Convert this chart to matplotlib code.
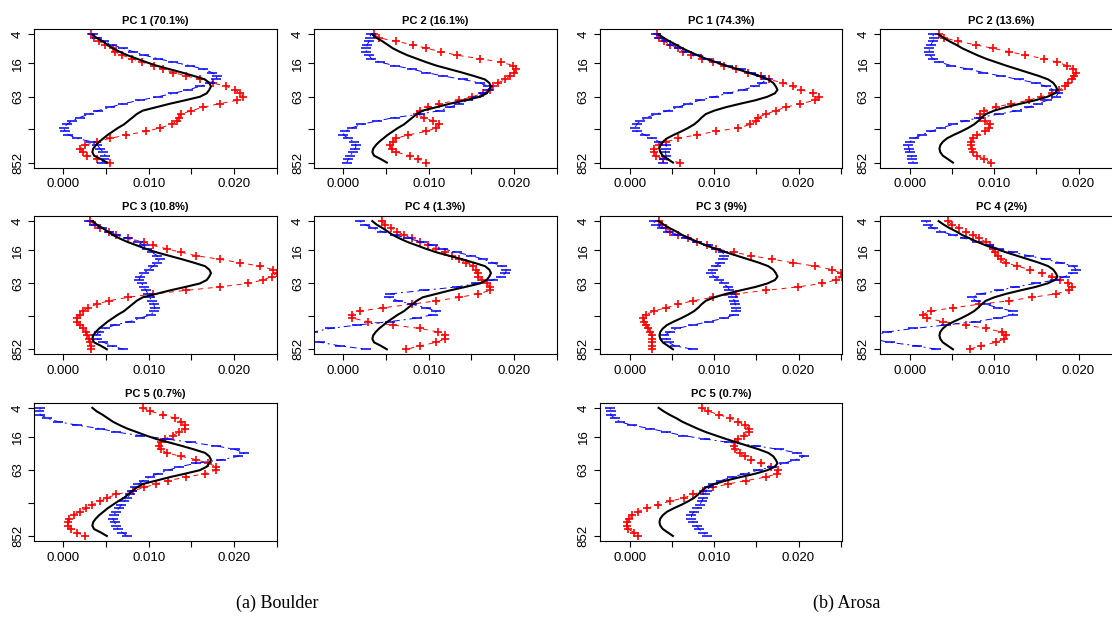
import matplotlib
matplotlib.use("Agg")
import matplotlib.pyplot as plt
from matplotlib import font_manager as fm
import numpy as np


def pick_font(names, default):
    for n in names:
        try:
            fm.findfont(fm.FontProperties(family=n), fallback_to_default=False)
            return n
        except Exception:
            pass
    return default


SANS = pick_font(['Liberation Sans', 'Arimo', 'Arial', 'Helvetica', 'Nimbus Sans', 'Roboto'], 'DejaVu Sans')
SERIF = pick_font(['Liberation Serif', 'Tinos', 'Times New Roman', 'Nimbus Roman'], 'DejaVu Serif')
plt.rcParams['font.family'] = [SANS, 'DejaVu Sans']

# vertical level index (top = 4, bottom = 852)
level = np.arange(38)
ytick_index = [0, 8.36, 17.98, 27.45, 37]
ytick_labels = ['4', '16', '63', '', '852']
xticks = [0.0, 0.005, 0.010, 0.015, 0.020, 0.025]
xtick_labels = ['0.000', '', '0.010', '', '0.020', '']

boulder_mean = [0.0034, 0.0039, 0.0046, 0.0052, 0.0058, 0.0066, 0.0075, 0.0086, 0.0097, 0.0109,
                0.0124, 0.0139, 0.0153, 0.0166, 0.0171, 0.0173, 0.0171, 0.0168, 0.0160, 0.0143,
                0.0125, 0.0109, 0.0093, 0.0086, 0.0081, 0.0076, 0.0071, 0.0064, 0.0058, 0.0052,
                0.0047, 0.0042, 0.0038, 0.0035, 0.0034, 0.0036, 0.0044, 0.0051]
arosa_mean = [0.0034, 0.0040, 0.0047, 0.0055, 0.0062, 0.0071, 0.0080, 0.0090, 0.0102, 0.0114,
              0.0127, 0.0140, 0.0153, 0.0164, 0.0170, 0.0173, 0.0175, 0.0172, 0.0163, 0.0149,
              0.0131, 0.0114, 0.0100, 0.0090, 0.0085, 0.0081, 0.0076, 0.0069, 0.0061, 0.0052,
              0.0044, 0.0039, 0.0036, 0.0035, 0.0036, 0.0039, 0.0045, 0.0051]

boulder_titles = ['PC 1 (70.1%)', 'PC 2 (16.1%)', 'PC 3 (10.8%)', 'PC 4 (1.3%)', 'PC 5 (0.7%)']
arosa_titles = ['PC 1 (74.3%)', 'PC 2 (13.6%)', 'PC 3 (9%)', 'PC 4 (2%)', 'PC 5 (0.7%)']

boulder_plus = [
    [0.0032, 0.0036, 0.0042, 0.0049, 0.0058, 0.0060, 0.0069, 0.0080, 0.0092, 0.0106,
     0.0117, 0.0129, 0.0144, 0.0160, 0.0175, 0.0191, 0.0201, 0.0207, 0.0211, 0.0204,
     0.0183, 0.0164, 0.0150, 0.0138, 0.0136, 0.0133, 0.0127, 0.0113, 0.0097, 0.0074,
     0.0055, 0.0039, 0.0025, 0.0020, 0.0023, 0.0028, 0.0039, 0.0055],
    [0.0036, 0.0042, 0.0062, 0.0082, 0.0097, 0.0115, 0.0133, 0.0160, 0.0185, 0.0199,
     0.0202, 0.0200, 0.0195, 0.0190, 0.0181, 0.0175, 0.0172, 0.0164, 0.0151, 0.0135,
     0.0112, 0.0099, 0.0090, 0.0086, 0.0094, 0.0105, 0.0112, 0.0109, 0.0097, 0.0076,
     0.0062, 0.0058, 0.0055, 0.0057, 0.0062, 0.0078, 0.0088, 0.0097],
    [0.0031, 0.0037, 0.0043, 0.0053, 0.0062, 0.0076, 0.0094, 0.0105, 0.0121, 0.0138,
     0.0156, 0.0183, 0.0207, 0.0230, 0.0246, 0.0250, 0.0244, 0.0234, 0.0216, 0.0183,
     0.0144, 0.0105, 0.0076, 0.0053, 0.0039, 0.0029, 0.0023, 0.0019, 0.0016, 0.0016,
     0.0019, 0.0023, 0.0027, 0.0028, 0.0030, 0.0031, 0.0032, 0.0032],
    [0.0045, 0.0049, 0.0056, 0.0063, 0.0071, 0.0080, 0.0090, 0.0099, 0.0109, 0.0119,
     0.0127, 0.0136, 0.0144, 0.0152, 0.0156, 0.0158, 0.0158, 0.0162, 0.0168, 0.0172,
     0.0172, 0.0158, 0.0136, 0.0109, 0.0080, 0.0047, 0.0019, 0.0010, 0.0010, 0.0029,
     0.0058, 0.0090, 0.0111, 0.0119, 0.0119, 0.0109, 0.0090, 0.0074],
    [0.0093, 0.0102, 0.0117, 0.0131, 0.0138, 0.0142, 0.0142, 0.0136, 0.0128, 0.0119,
     0.0114, 0.0112, 0.0114, 0.0121, 0.0138, 0.0156, 0.0170, 0.0179, 0.0179, 0.0166,
     0.0144, 0.0123, 0.0109, 0.0094, 0.0082, 0.0062, 0.0051, 0.0043, 0.0034, 0.0027,
     0.0019, 0.0012, 0.0007, 0.0005, 0.0006, 0.0009, 0.0016, 0.0025],
]
boulder_minus = [
    [0.0035, 0.0040, 0.0048, 0.0057, 0.0070, 0.0082, 0.0095, 0.0111, 0.0129, 0.0148,
     0.0164, 0.0174, 0.0180, 0.0179, 0.0172, 0.0160, 0.0146, 0.0129, 0.0111, 0.0090,
     0.0070, 0.0055, 0.0041, 0.0030, 0.0019, 0.0010, 0.0004, 0.0001, 0.0002, 0.0006,
     0.0016, 0.0033, 0.0040, 0.0043, 0.0047, 0.0049, 0.0048, 0.0045],
    [0.0032, 0.0031, 0.0030, 0.0028, 0.0027, 0.0027, 0.0030, 0.0033, 0.0043, 0.0060,
     0.0080, 0.0097, 0.0117, 0.0140, 0.0160, 0.0170, 0.0170, 0.0164, 0.0156, 0.0146,
     0.0136, 0.0125, 0.0113, 0.0090, 0.0060, 0.0039, 0.0021, 0.0010, 0.0002, 0.0000,
     0.0006, 0.0012, 0.0015, 0.0014, 0.0011, 0.0008, 0.0006, 0.0004],
    [0.0030, 0.0036, 0.0045, 0.0054, 0.0062, 0.0076, 0.0087, 0.0094, 0.0098, 0.0104,
     0.0110, 0.0113, 0.0110, 0.0105, 0.0100, 0.0094, 0.0090, 0.0089, 0.0092, 0.0094,
     0.0097, 0.0099, 0.0101, 0.0104, 0.0106, 0.0107, 0.0106, 0.0103, 0.0090, 0.0078,
     0.0060, 0.0049, 0.0042, 0.0038, 0.0040, 0.0047, 0.0057, 0.0070],
    [0.0019, 0.0025, 0.0035, 0.0045, 0.0060, 0.0076, 0.0092, 0.0105, 0.0117, 0.0133,
     0.0150, 0.0164, 0.0175, 0.0186, 0.0191, 0.0190, 0.0185, 0.0175, 0.0156, 0.0133,
     0.0094, 0.0055, 0.0053, 0.0064, 0.0080, 0.0097, 0.0109, 0.0105, 0.0086, 0.0055,
     0.0016, -0.0016, -0.0035, -0.0047, -0.0047, -0.0027, -0.0004, 0.0027],
    [-0.0027, -0.0028, -0.0027, -0.0019, -0.0006, 0.0016, 0.0043, 0.0062, 0.0090, 0.0121,
     0.0150, 0.0179, 0.0201, 0.0212, 0.0205, 0.0185, 0.0156, 0.0136, 0.0123, 0.0111,
     0.0101, 0.0094, 0.0088, 0.0084, 0.0081, 0.0078, 0.0075, 0.0071, 0.0068, 0.0065,
     0.0062, 0.0059, 0.0058, 0.0060, 0.0062, 0.0064, 0.0069, 0.0075],
]

arosa_plus = [
    [0.0032, 0.0035, 0.0041, 0.0048, 0.0057, 0.0063, 0.0073, 0.0086, 0.0098, 0.0111,
     0.0126, 0.0140, 0.0156, 0.0165, 0.0182, 0.0193, 0.0203, 0.0217, 0.0224, 0.0220,
     0.0202, 0.0185, 0.0173, 0.0161, 0.0152, 0.0150, 0.0143, 0.0128, 0.0102, 0.0079,
     0.0057, 0.0043, 0.0035, 0.0028, 0.0028, 0.0031, 0.0039, 0.0059],
    [0.0035, 0.0041, 0.0057, 0.0078, 0.0098, 0.0118, 0.0137, 0.0159, 0.0175, 0.0186,
     0.0194, 0.0197, 0.0195, 0.0192, 0.0188, 0.0184, 0.0177, 0.0169, 0.0155, 0.0141,
     0.0120, 0.0102, 0.0088, 0.0083, 0.0083, 0.0089, 0.0095, 0.0094, 0.0089, 0.0080,
     0.0075, 0.0073, 0.0073, 0.0074, 0.0075, 0.0079, 0.0088, 0.0096],
    [0.0035, 0.0038, 0.0043, 0.0048, 0.0057, 0.0069, 0.0079, 0.0091, 0.0102, 0.0124,
     0.0144, 0.0169, 0.0193, 0.0220, 0.0240, 0.0250, 0.0252, 0.0244, 0.0228, 0.0199,
     0.0161, 0.0126, 0.0098, 0.0075, 0.0057, 0.0043, 0.0028, 0.0019, 0.0016, 0.0017,
     0.0019, 0.0022, 0.0024, 0.0026, 0.0026, 0.0026, 0.0026, 0.0026],
    [0.0045, 0.0050, 0.0058, 0.0066, 0.0075, 0.0082, 0.0090, 0.0095, 0.0098, 0.0101,
     0.0104, 0.0108, 0.0114, 0.0127, 0.0143, 0.0157, 0.0169, 0.0178, 0.0188, 0.0192,
     0.0189, 0.0173, 0.0145, 0.0118, 0.0082, 0.0051, 0.0025, 0.0015, 0.0020, 0.0039,
     0.0067, 0.0090, 0.0109, 0.0114, 0.0112, 0.0102, 0.0084, 0.0071],
    [0.0085, 0.0093, 0.0106, 0.0119, 0.0128, 0.0136, 0.0141, 0.0141, 0.0135, 0.0128,
     0.0125, 0.0124, 0.0125, 0.0130, 0.0136, 0.0144, 0.0156, 0.0167, 0.0176, 0.0175,
     0.0161, 0.0138, 0.0116, 0.0099, 0.0087, 0.0075, 0.0064, 0.0047, 0.0033, 0.0020,
     0.0009, 0.0003, -0.0001, -0.0004, -0.0004, -0.0002, 0.0005, 0.0009],
]
arosa_minus = [
    [0.0031, 0.0035, 0.0043, 0.0050, 0.0058, 0.0068, 0.0079, 0.0091, 0.0102, 0.0116,
     0.0132, 0.0144, 0.0156, 0.0161, 0.0157, 0.0148, 0.0134, 0.0116, 0.0100, 0.0083,
     0.0069, 0.0057, 0.0045, 0.0031, 0.0020, 0.0012, 0.0008, 0.0006, 0.0008, 0.0018,
     0.0026, 0.0035, 0.0043, 0.0043, 0.0042, 0.0043, 0.0041, 0.0039],
    [0.0027, 0.0029, 0.0027, 0.0025, 0.0023, 0.0023, 0.0024, 0.0027, 0.0035, 0.0049,
     0.0069, 0.0087, 0.0108, 0.0129, 0.0149, 0.0161, 0.0171, 0.0176, 0.0173, 0.0163,
     0.0152, 0.0141, 0.0127, 0.0106, 0.0082, 0.0065, 0.0051, 0.0037, 0.0025, 0.0014,
     0.0005, 0.0000, -0.0002, -0.0001, 0.0000, 0.0002, 0.0002, 0.0004],
    [0.0028, 0.0031, 0.0038, 0.0045, 0.0055, 0.0067, 0.0080, 0.0093, 0.0102, 0.0110,
     0.0112, 0.0110, 0.0107, 0.0102, 0.0098, 0.0096, 0.0100, 0.0106, 0.0111, 0.0116,
     0.0118, 0.0120, 0.0122, 0.0124, 0.0125, 0.0126, 0.0126, 0.0124, 0.0112, 0.0094,
     0.0075, 0.0055, 0.0047, 0.0041, 0.0043, 0.0046, 0.0053, 0.0075],
    [0.0019, 0.0022, 0.0027, 0.0037, 0.0051, 0.0065, 0.0080, 0.0094, 0.0106, 0.0122,
     0.0141, 0.0161, 0.0178, 0.0194, 0.0197, 0.0193, 0.0184, 0.0172, 0.0149, 0.0125,
     0.0106, 0.0084, 0.0074, 0.0078, 0.0090, 0.0104, 0.0122, 0.0122, 0.0104, 0.0078,
     0.0043, 0.0004, -0.0027, -0.0043, -0.0045, -0.0024, 0.0008, 0.0031],
    [-0.0024, -0.0022, -0.0023, -0.0018, -0.0012, 0.0002, 0.0024, 0.0043, 0.0063, 0.0089,
     0.0118, 0.0150, 0.0177, 0.0198, 0.0207, 0.0196, 0.0183, 0.0169, 0.0152, 0.0136,
     0.0121, 0.0108, 0.0099, 0.0094, 0.0091, 0.0089, 0.0087, 0.0085, 0.0083, 0.0080,
     0.0076, 0.0073, 0.0073, 0.0075, 0.0079, 0.0082, 0.0087, 0.0091],
]

# ---------------------------------------------------------------- layout
W, H = 1112, 620
fig = plt.figure(figsize=(W / 100, H / 100), dpi=100)
AW, AH = 242.4, 138.4
row_tops = [29.3, 216.0, 402.7]
grid = [(0, 0), (0, 1), (1, 0), (1, 1), (2, 0)]

groups = [
    dict(cols=[34.3, 314.3], mean=boulder_mean, plus=boulder_plus, minus=boulder_minus,
         titles=boulder_titles, xlim=(-0.0034, 0.0250)),
    dict(cols=[600.0, 880.0], mean=arosa_mean, plus=arosa_plus, minus=arosa_minus,
         titles=arosa_titles, xlim=(-0.00355, 0.0252)),
]

for g in groups:
    for i, (r, c) in enumerate(grid):
        left = g['cols'][c]
        top = row_tops[r]
        ax = fig.add_axes([left / W, 1 - (top + AH) / H, AW / W, AH / H])
        ax.plot(g['mean'], level, color='black', lw=1.5, zorder=3)
        ax.plot(g['plus'][i], level, color='#FF0000', lw=0.7, dashes=(5, 5),
                marker='+', ms=6, mew=1.2, zorder=2)
        ax.plot(g['minus'][i], level, color='#0000FF', lw=0.7, dashes=(2, 4, 7, 4),
                marker='_', ms=6.5, mew=1.1, zorder=2)
        ax.set_xlim(*g['xlim'])
        ax.set_ylim(37 * 1.04, -37 * 0.04)
        ax.set_xticks(xticks)
        ax.set_xticklabels(xtick_labels)
        ax.set_yticks(ytick_index)
        ax.set_yticklabels(ytick_labels, rotation=90, va='center')
        ax.tick_params(direction='out', length=4, width=0.8, labelsize=9.5, pad=3.5,
                       colors='black')
        for s in ax.spines.values():
            s.set_linewidth(0.8)
        ax.set_title(g['titles'][i], fontsize=8, fontweight='bold', pad=4)

fig.text(277 / W, 1 - 603 / H, '(a) Boulder', ha='center', va='center',
         fontsize=13, family=[SERIF, 'DejaVu Serif'])
fig.text(847 / W, 1 - 603 / H, '(b) Arosa', ha='center', va='center',
         fontsize=13, family=[SERIF, 'DejaVu Serif'])

fig.savefig('out.png', dpi=100)
